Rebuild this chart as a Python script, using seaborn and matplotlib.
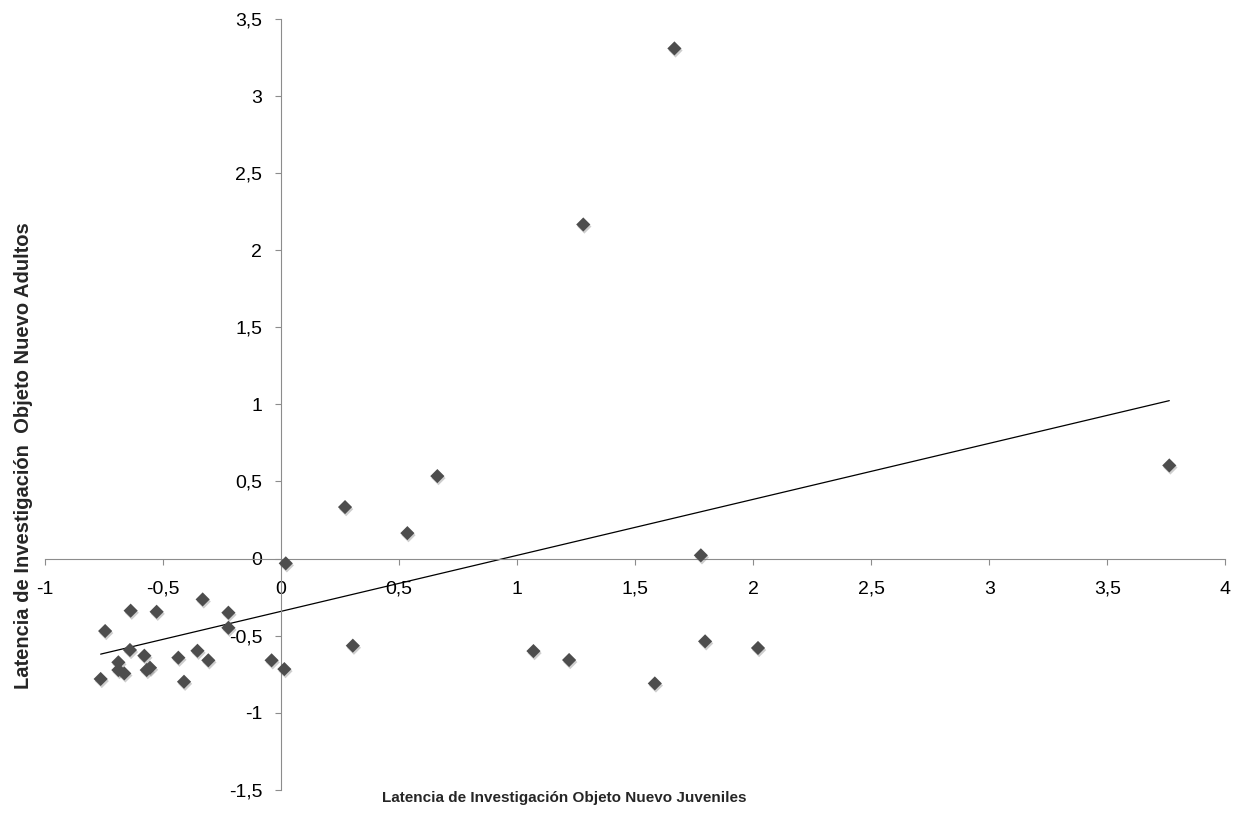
import matplotlib
matplotlib.use("Agg")
import matplotlib.pyplot as plt
import matplotlib.patheffects as pe
import seaborn as sns
import pandas as pd

# ---- data ----
juveniles = [-0.745, -0.637, -0.527, -0.332, -0.223, -0.223, -0.640, -0.579, -0.689,
             -0.689, -0.664, -0.764, -0.569, -0.555, -0.435, -0.354, -0.308, -0.411,
             -0.040, 0.014, 0.020, 0.271, 0.535, 0.662, 0.304, 1.069, 1.220, 1.583,
             1.280, 1.666, 1.778, 1.796, 2.020, 3.762]
adultos = [-0.470, -0.338, -0.345, -0.265, -0.351, -0.449, -0.593, -0.630, -0.673,
           -0.723, -0.745, -0.781, -0.723, -0.708, -0.643, -0.598, -0.660, -0.799,
           -0.660, -0.717, -0.031, 0.334, 0.165, 0.535, -0.565, -0.600, -0.658, -0.810,
           2.167, 3.309, 0.021, -0.537, -0.580, 0.604]

x_ticks = [-1, -0.5, 0, 0.5, 1, 1.5, 2, 2.5, 3, 3.5, 4]
x_tick_labels = ["-1", "-0,5", "0", "0,5", "1", "1,5", "2", "2,5", "3", "3,5", "4"]
y_ticks = [-1.5, -1, -0.5, 0, 0.5, 1, 1.5, 2, 2.5, 3, 3.5]
y_tick_labels = ["-1,5", "-1", "-0,5", "0", "0,5", "1", "1,5", "2", "2,5", "3", "3,5"]

x_label = "Latencia de Investigación Objeto Nuevo Juveniles"
y_label = "Latencia de Investigación  Objeto Nuevo Adultos"

df = pd.DataFrame({"juveniles": juveniles, "adultos": adultos})

sns.set_theme(style="white")
plt.rcParams["font.family"] = ["Liberation Sans", "DejaVu Sans"]

fig = plt.figure(figsize=(12.38, 8.15), dpi=100)
ax = fig.add_axes([0.0363, 0.0309, 0.9536, 0.9458])

sns.scatterplot(data=df, x="juveniles", y="adultos", marker="D", s=52,
                color="#4d4d4d", edgecolor="none", ax=ax, zorder=3)
ax.collections[0].set_path_effects([
    pe.SimplePatchShadow(offset=(0.8, -1.5), shadow_rgbFace="0.45", alpha=0.35),
    pe.Normal()])
sns.regplot(data=df, x="juveniles", y="adultos", scatter=False, ci=None,
            truncate=True, color="black", line_kws={"linewidth": 0.9}, ax=ax)

ax.set_xlim(-1, 4)
ax.set_ylim(-1.5, 3.5)
ax.set_xticks(x_ticks)
ax.set_xticklabels(x_tick_labels)
ax.set_yticks(y_ticks)
ax.set_yticklabels(y_tick_labels)
ax.set_xlabel("")
ax.set_ylabel("")

for side in ["top", "right"]:
    ax.spines[side].set_visible(False)
for side in ["left", "bottom"]:
    ax.spines[side].set_position(("data", 0))
    ax.spines[side].set_color("#8c8c8c")
    ax.spines[side].set_linewidth(0.8)

ax.tick_params(axis="both", which="major", bottom=True, left=True, direction="out",
               length=4.5, width=0.8, color="#8c8c8c", labelsize=14,
               labelcolor="black")
ax.tick_params(axis="x", pad=11.5)
ax.tick_params(axis="y", pad=9)
ax.grid(False)

fig.text(0.456, 0.021, x_label, ha="center", va="center", fontsize=11,
         fontweight="bold")
fig.text(0.0186, 0.4405, y_label, ha="center", va="center", rotation=90,
         fontsize=14.5, fontweight="bold")

fig.savefig("out.png", dpi=100)
